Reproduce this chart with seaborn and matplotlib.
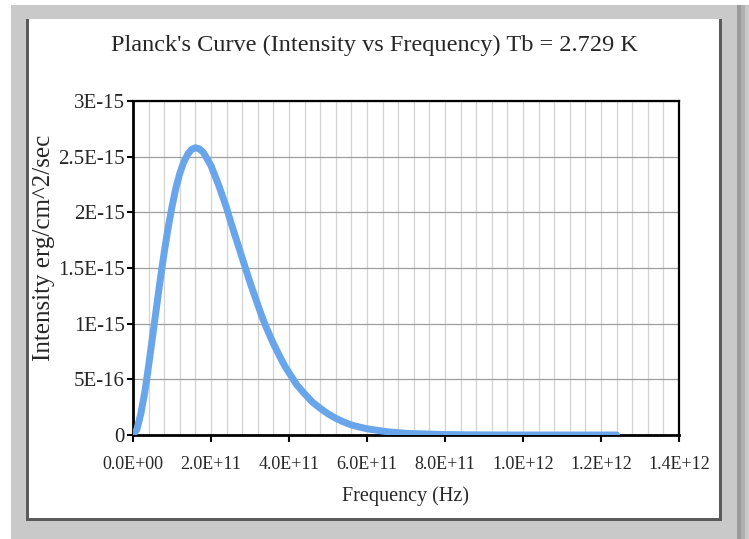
import matplotlib
matplotlib.use("Agg")
import matplotlib.pyplot as plt
import seaborn as sns
import pandas as pd
from matplotlib.patches import Rectangle
from matplotlib.ticker import MultipleLocator

# values (frequency in 1E10 Hz, intensity in 1E-15)
freq_e10 = [0, 1, 2, 3, 4, 5, 6, 7, 8, 9, 10, 11, 12, 13, 14, 15, 16, 17, 18, 19,
            20, 21, 22, 23, 24, 25, 26, 27, 28, 29, 30, 31, 32, 33, 34, 35, 36, 37,
            38, 39, 40, 42, 44, 46, 48, 50, 52, 54, 56, 58, 60, 65, 70, 80, 90, 100,
            110, 124]
intensity_e15 = [0, 0.05, 0.19, 0.38, 0.62, 0.88, 1.14, 1.40, 1.64, 1.86, 2.05, 2.22,
                 2.35, 2.45, 2.52, 2.565, 2.58, 2.57, 2.54, 2.48, 2.42, 2.33, 2.24,
                 2.14, 2.04, 1.92, 1.81, 1.70, 1.59, 1.48, 1.37, 1.27, 1.17, 1.07,
                 0.98, 0.90, 0.82, 0.75, 0.68, 0.615, 0.56, 0.45, 0.37, 0.295, 0.24,
                 0.19, 0.15, 0.117, 0.09, 0.072, 0.056, 0.03, 0.015, 0.004, 0.001, 0,
                 0, 0]

x_ticks = [0, 2e11, 4e11, 6e11, 8e11, 1e12, 1.2e12, 1.4e12]
x_labels = ['0.0E+00', '2.0E+11', '4.0E+11', '6.0E+11', '8.0E+11', '1.0E+12', '1.2E+12', '1.4E+12']
y_ticks = [0, 5e-16, 1e-15, 1.5e-15, 2e-15, 2.5e-15, 3e-15]
y_labels = ['0', '5E-16', '1E-15', '1.5E-15', '2E-15', '2.5E-15', '3E-15']

sns.set_style("white")
plt.rcParams['font.family'] = ['Liberation Serif', 'DejaVu Serif']

W, H = 749, 539
fig = plt.figure(figsize=(W / 100, H / 100), dpi=100)
fig.patch.set_facecolor('white')


def box(x0, y0, x1, y1, color):
    fig.patches.append(Rectangle((x0 / W, 1 - y1 / H), (x1 - x0) / W, (y1 - y0) / H,
                                 transform=fig.transFigure, facecolor=color,
                                 edgecolor='none', zorder=-5))


# grey frame with shadow on the right
box(11, 5, 749, 539, '#c9c9c9')
box(737, 5, 741, 539, '#9a9a9a')
box(741, 5, 745, 539, '#b0b0b0')
# white panel with dark edges
box(26, 19, 722, 521, '#5a5a5a')
box(29, 19, 719, 518, 'white')

ax = fig.add_axes([133 / W, 1 - 435 / H, (679 - 133) / W, (435 - 101) / H])
ax.set_facecolor('white')

df = pd.DataFrame({'Frequency': [f * 1e10 for f in freq_e10],
                   'Intensity': [v * 1e-15 for v in intensity_e15]})
sns.lineplot(data=df, x='Frequency', y='Intensity', ax=ax, color='#68a5ea',
             linewidth=5, zorder=3, solid_capstyle='round', solid_joinstyle='round')

ax.set_xlim(0, 1.4e12)
ax.set_ylim(0, 3e-15)
ax.set_xticks(x_ticks)
ax.set_xticklabels(x_labels, fontsize=13)
ax.set_yticks(y_ticks)
ax.set_yticklabels(y_labels, fontsize=15)
ax.xaxis.set_minor_locator(MultipleLocator(4e10))

ax.grid(True, which='major', axis='y', color='#9e9e9e', linewidth=0.9)
ax.grid(True, which='both', axis='x', color='#d2d2d2', linewidth=0.9)
ax.set_axisbelow(True)

for s in ax.spines.values():
    s.set_visible(True)
    s.set_color('black')
    s.set_linewidth(1.6)
ax.spines['left'].set_linewidth(2)
ax.spines['bottom'].set_linewidth(2)

ax.tick_params(axis='both', which='major', direction='out', length=5, width=1.5,
               color='black', bottom=True, left=True)
ax.tick_params(axis='x', which='major', pad=10)
ax.tick_params(axis='y', which='major', length=4, pad=2)
ax.tick_params(axis='x', which='minor', length=0)

ax.set_xlabel('Frequency (Hz)', fontsize=14.5, labelpad=10)
ax.set_ylabel('Intensity erg/cm^2/sec', fontsize=18, va='center')
ax.yaxis.set_label_coords((44 - 133) / 546, (435 - 248) / 334)
fig.text(374 / W, 1 - 45 / H, "Planck's Curve (Intensity vs Frequency) Tb = 2.729 K",
         ha='center', va='center', fontsize=17.5)

fig.savefig('out.png', dpi=100)
